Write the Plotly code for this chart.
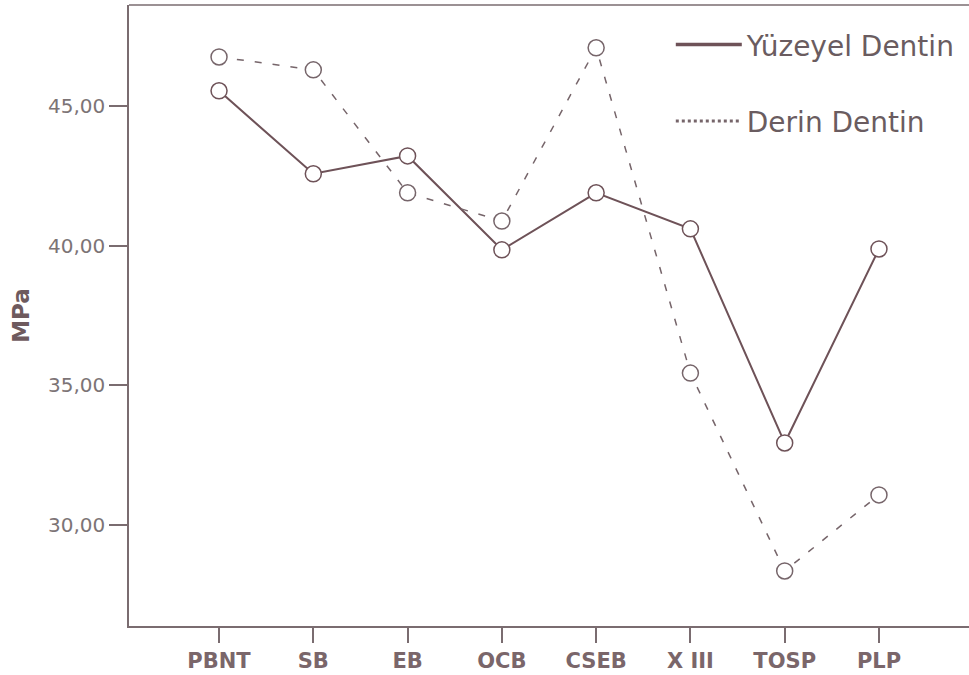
import plotly.graph_objects as go

categories = ["PBNT", "SB", "EB", "OCB", "CSEB", "X III", "TOSP", "PLP"]
yuzeyel = [45.54, 42.57, 43.21, 39.85, 41.89, 40.60, 32.94, 39.88]
derin = [46.75, 46.29, 41.89, 40.88, 47.08, 35.44, 28.36, 31.08]
y_ticks = [30, 35, 40, 45]
y_tick_text = ["30,00", "35,00", "40,00", "45,00"]

line_col = "#6e5258"
dash_col = "#76656a"
axis_col = "#7a6c70"
text_col = "#7c7476"
x = list(range(len(categories)))

fig = go.Figure()
fig.add_trace(go.Scatter(
    x=x, y=yuzeyel, mode="lines+markers", showlegend=False,
    line=dict(color=line_col, width=2),
    marker=dict(symbol="circle", size=16, color="white",
                line=dict(color=line_col, width=1.5)),
))
fig.add_trace(go.Scatter(
    x=x, y=derin, mode="lines+markers", showlegend=False,
    line=dict(color=dash_col, width=1.5, dash="7px,11px"),
    marker=dict(symbol="circle", size=16, color="white",
                line=dict(color=dash_col, width=1.5)),
))
# legend entries (line only, as in the original)
fig.add_trace(go.Scatter(
    x=[None], y=[None], mode="lines", name="Yüzeyel Dentin", legendgroup="a",
    line=dict(color=line_col, width=3.5),
))
fig.add_trace(go.Scatter(
    x=[None], y=[None], mode="lines", name="Derin Dentin", legendgroup="b",
    line=dict(color=dash_col, width=3, dash="dot"),
))

fig.update_layout(
    width=969, height=675,
    margin=dict(l=129, r=0, t=5, b=49),
    plot_bgcolor="white", paper_bgcolor="white",
    legend=dict(
        x=0.645, y=0.976, xanchor="left", yanchor="top",
        traceorder="grouped", tracegroupgap=37,
        font=dict(family="DejaVu Sans, Arial", size=28, color="#6a5c60"),
        bgcolor="rgba(0,0,0,0)", itemwidth=66,
    ),
    xaxis=dict(
        range=[-0.955, 7.955],
        tickmode="array", tickvals=x, ticktext=categories,
        showline=True, linecolor=axis_col, linewidth=1.5, mirror=False,
        ticks="outside", ticklen=15, tickcolor=axis_col, tickwidth=1.5,
        showgrid=False, zeroline=False,
        tickfont=dict(family="DejaVu Sans, Arial", size=21, color="#7a666a", weight="bold"),
    ),
    yaxis=dict(
        range=[26.39, 48.61],
        tickmode="array", tickvals=y_ticks, ticktext=y_tick_text,
        showline=True, linecolor=axis_col, linewidth=1.5,
        ticks="outside", ticklen=18, tickcolor=axis_col, tickwidth=1.5,
        showgrid=False, zeroline=False,
        tickfont=dict(family="DejaVu Sans, Arial", size=20, color=text_col),
        title=dict(text="MPa", standoff=12,
                   font=dict(family="DejaVu Sans, Arial", size=23, color="#6e5a5e", weight="bold")),
    ),
    shapes=[dict(type="line", xref="paper", yref="paper", x0=0, x1=1, y0=1, y1=1,
                 line=dict(color=axis_col, width=1.5))],
)

fig.write_html("out.html", config={"displayModeBar": False},
               post_script="document.body.style.margin='0px';")
